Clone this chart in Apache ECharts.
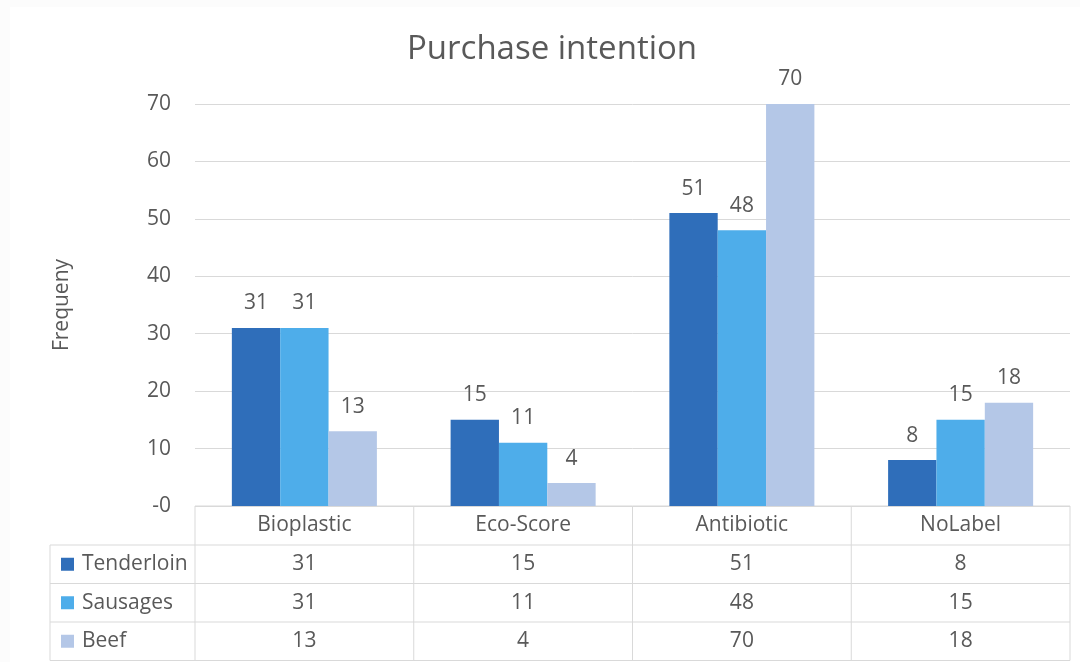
<!DOCTYPE html>
<html>
<head>
<meta charset="utf-8">
<script src="https://cdn.jsdelivr.net/npm/echarts@6/dist/echarts.min.js"></script>
<style>
html,body{margin:0;padding:0;background:#fff;}
#chart{width:1080px;height:662px;}
</style>
</head>
<body>
<div id="chart"></div>
<script>
const categories = ['Bioplastic', 'Eco-Score', 'Antibiotic', 'NoLabel'];
const seriesNames = ['Tenderloin', 'Sausages', 'Beef'];
const tenderloin = [31, 15, 51, 8];
const sausages = [31, 11, 48, 15];
const beef = [13, 4, 70, 18];
const yTickLabels = ['-0', '10', '20', '30', '40', '50', '60', '70'];
const colors = ['#2F6EBA', '#4EADEA', '#B4C7E7'];

const seriesData = [tenderloin, sausages, beef];
const FONT = 'Open Sans';
const TXT = '#595959';
const LINE = '#D9D9D9';
const FS = 21;

const chart = echarts.init(document.getElementById('chart'), null, {renderer: 'canvas'});

const option = {
  backgroundColor: '#FCFCFC',
  animation: false,
  title: {
    text: 'Purchase intention',
    left: 402,
    top: 28,
    textStyle: {fontFamily: FONT, fontSize: 33, fontWeight: 'normal', color: TXT}
  },
  grid: {left: 195, right: 10, top: 104, bottom: 156, containLabel: false},
  xAxis: {
    type: 'category',
    data: categories,
    axisLine: {show: false},
    axisTick: {show: false},
    axisLabel: {show: false},
    splitLine: {show: false}
  },
  yAxis: {
    type: 'value',
    min: 0, max: 70, interval: 10,
    name: 'Frequeny',
    nameLocation: 'middle',
    nameGap: 122,
    nameRotate: 90,
    nameTextStyle: {fontFamily: FONT, fontSize: FS, color: TXT},
    axisLine: {show: false},
    axisTick: {show: false},
    axisLabel: {
      fontFamily: FONT, fontSize: FS, color: TXT, margin: 24,
      formatter: function (v) { return yTickLabels[Math.round(v / 10)]; }
    },
    splitLine: {lineStyle: {color: LINE, width: 1}}
  },
  series: seriesNames.map(function (name, i) {
    return {
      name: name,
      type: 'bar',
      data: seriesData[i],
      barGap: '0%',
      barCategoryGap: '33.7%',
      itemStyle: {color: colors[i]},
      label: {
        show: true, position: 'top', distance: 14,
        fontFamily: FONT, fontSize: FS, color: TXT
      }
    };
  })
};
chart.setOption(option);

// Data table below the plot, positioned from the axis scales
function buildTable() {
  const centers = categories.map(function (c) { return chart.convertToPixel({xAxisIndex: 0}, c); });
  const bw = centers.length > 1 ? centers[1] - centers[0] : 200;
  const x0 = centers[0] - bw / 2;
  const xEnd = centers[centers.length - 1] + bw / 2;
  const y0 = chart.convertToPixel({yAxisIndex: 0}, 0);
  const rowH = 38.5;
  const headH = 39;
  const leftX = 50;
  const g = [];
  g.push({type: 'rect', z: -10, shape: {x: 10, y: 7, width: chart.getWidth() - 10, height: chart.getHeight() - 7}, style: {fill: '#fff'}, silent: true});
  const lineStyle = {stroke: LINE, lineWidth: 1};
  const nRows = seriesNames.length;
  const bottom = y0 + headH + rowH * nRows;
  g.push({type: 'line', shape: {x1: x0, y1: y0, x2: xEnd, y2: y0}, style: lineStyle, silent: true});
  for (let r = 0; r <= nRows; r++) {
    const y = y0 + headH + rowH * r;
    g.push({type: 'line', shape: {x1: leftX, y1: y, x2: xEnd, y2: y}, style: lineStyle, silent: true});
  }
  g.push({type: 'line', shape: {x1: leftX, y1: y0 + headH, x2: leftX, y2: bottom}, style: lineStyle, silent: true});
  for (let c = 0; c <= categories.length; c++) {
    const x = x0 + bw * c;
    g.push({type: 'line', shape: {x1: x, y1: y0, x2: x, y2: bottom}, style: lineStyle, silent: true});
  }
  categories.forEach(function (cat, c) {
    g.push({type: 'text', x: centers[c], y: y0 + headH / 2, silent: true,
      style: {text: cat, fontFamily: FONT, fontSize: FS, fill: TXT, align: 'center', verticalAlign: 'middle'}});
  });
  seriesNames.forEach(function (name, r) {
    const yc = y0 + headH + rowH * r + rowH / 2;
    g.push({type: 'rect', shape: {x: leftX + 11, y: yc - 6.5, width: 13, height: 13}, style: {fill: colors[r]}, silent: true});
    g.push({type: 'text', x: leftX + 32, y: yc, silent: true,
      style: {text: name, fontFamily: FONT, fontSize: FS, fill: TXT, align: 'left', verticalAlign: 'middle'}});
    seriesData[r].forEach(function (v, c) {
      g.push({type: 'text', x: centers[c], y: yc, silent: true,
        style: {text: String(v), fontFamily: FONT, fontSize: FS, fill: TXT, align: 'center', verticalAlign: 'middle'}});
    });
  });
  chart.setOption({graphic: {elements: g}});
}
buildTable();
</script>
</body>
</html>
